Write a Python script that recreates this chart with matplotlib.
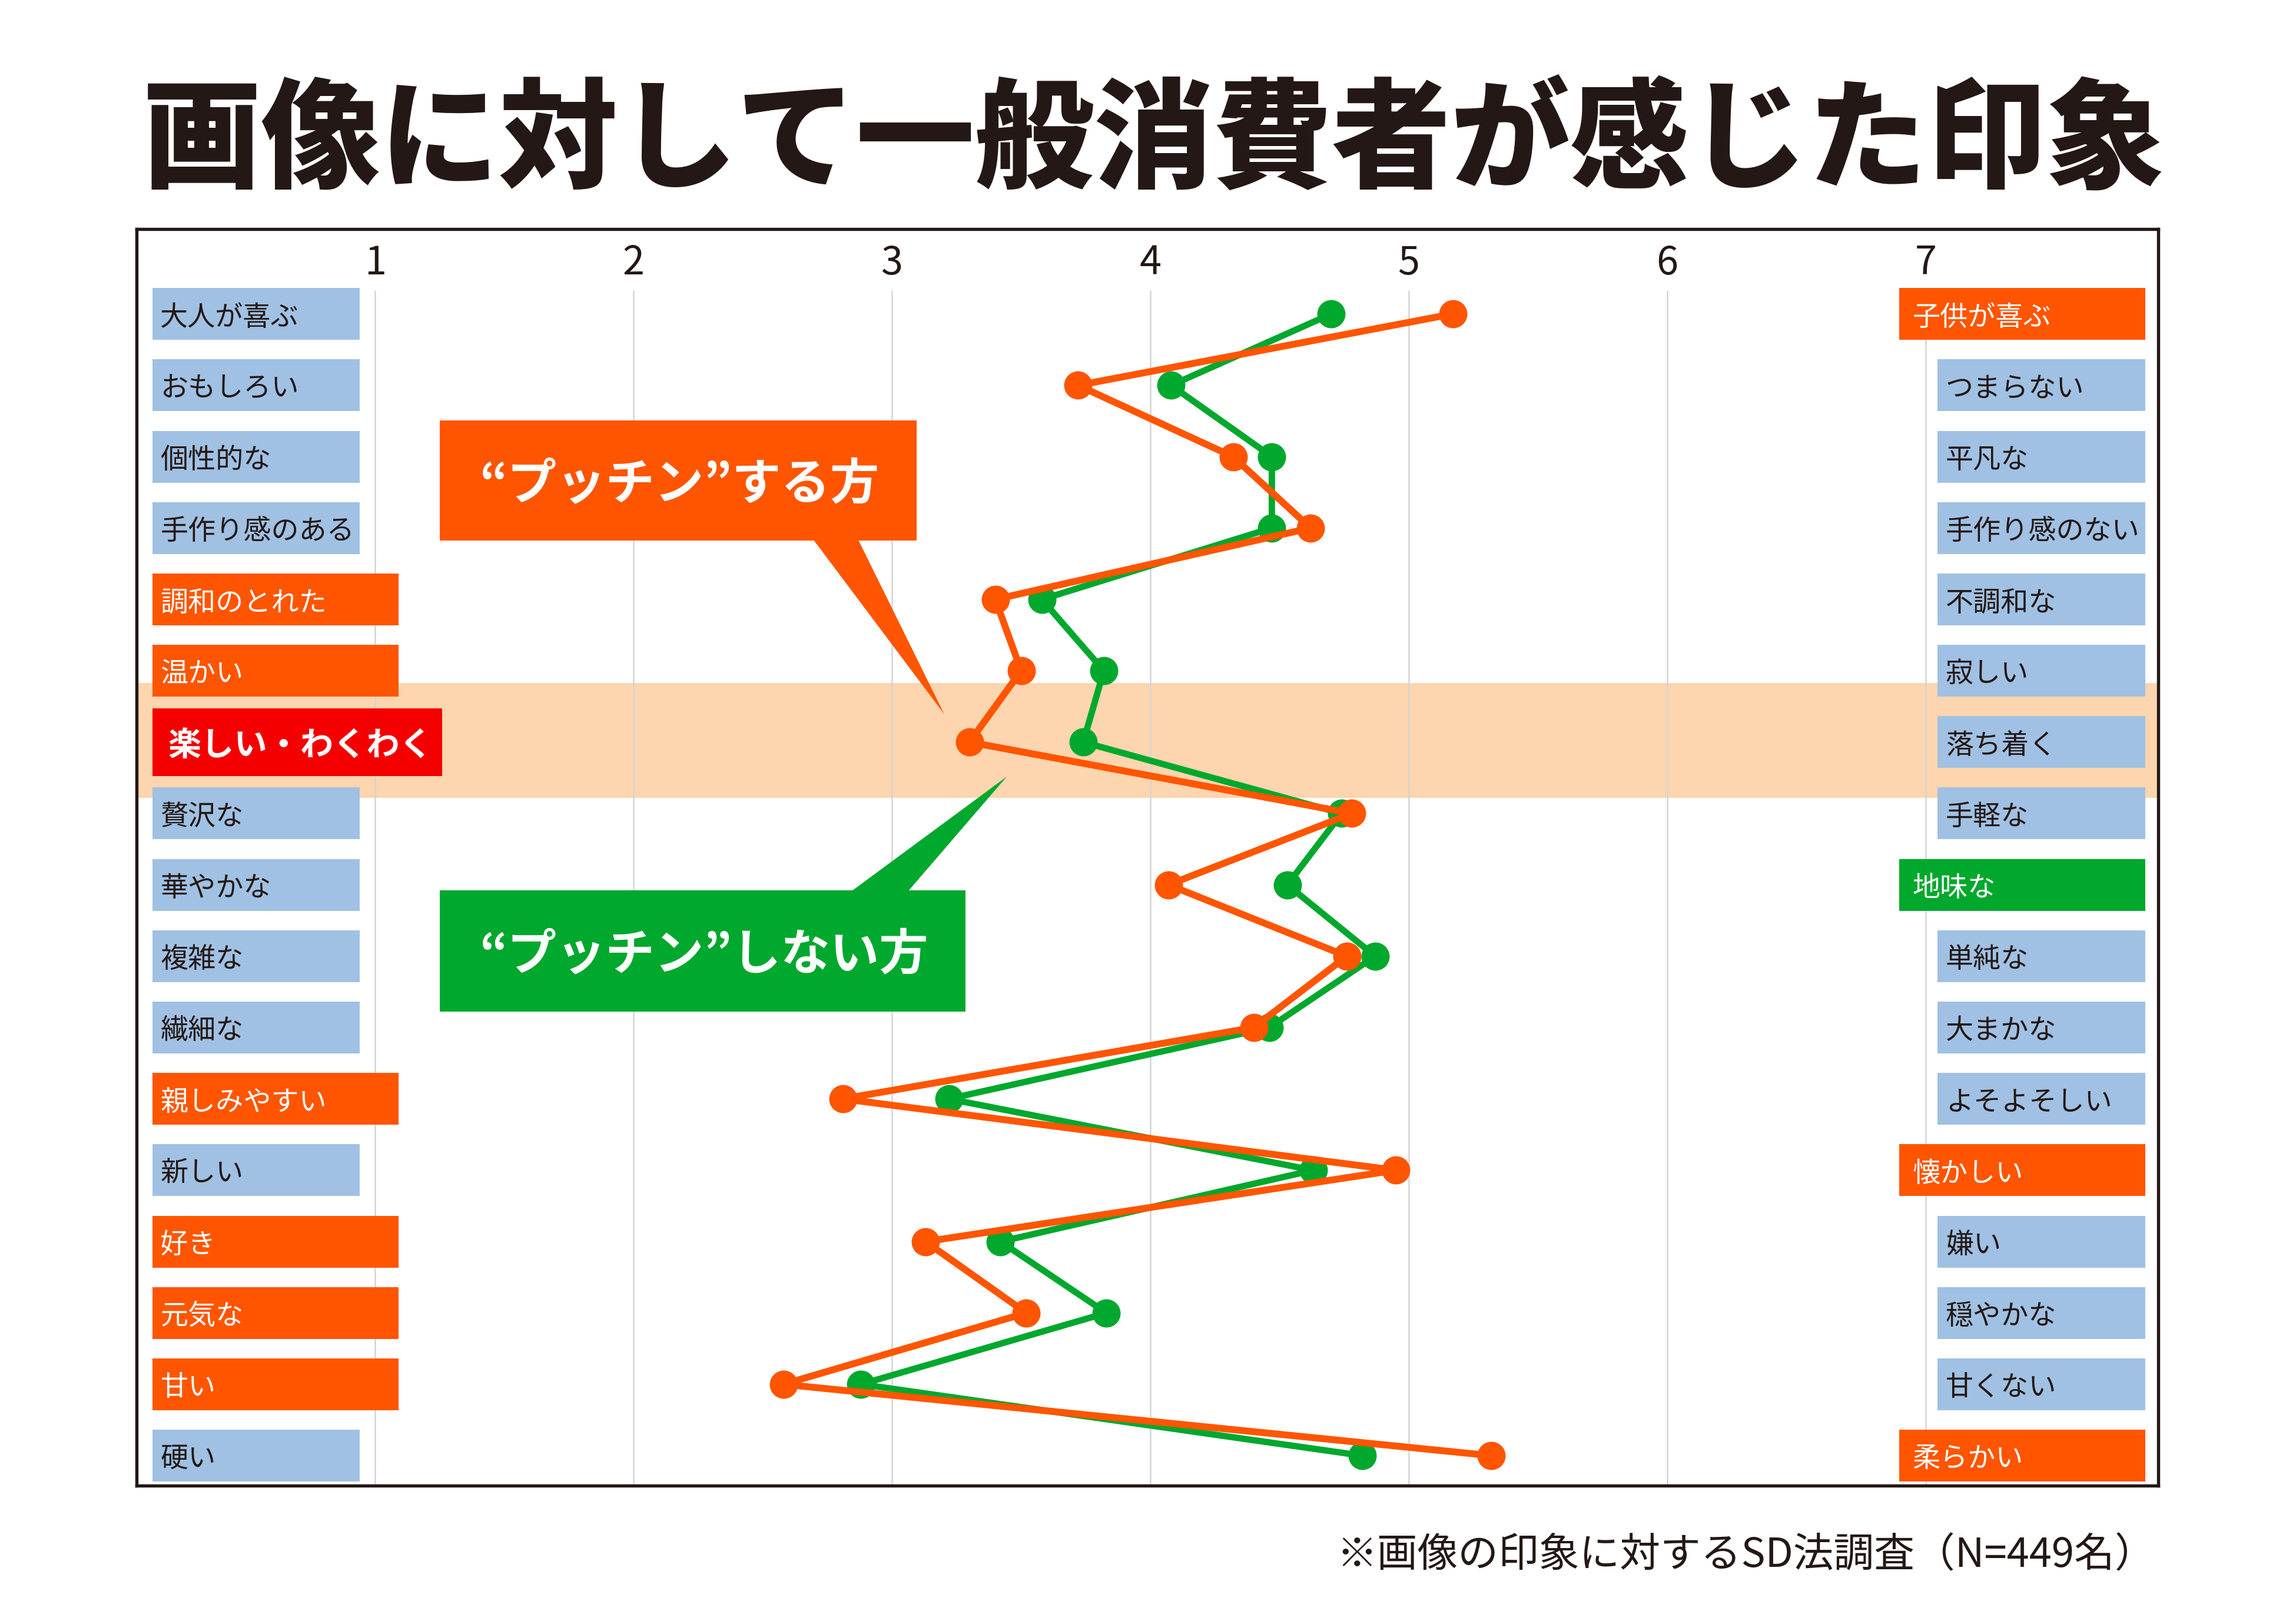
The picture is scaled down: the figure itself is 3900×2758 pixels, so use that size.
import matplotlib
matplotlib.use('Agg')
import matplotlib.pyplot as plt
from matplotlib.patches import Rectangle, Polygon
import numpy as np

plt.rcParams['font.family'] = ['Noto Sans CJK JP', 'DejaVu Sans']

# データ（SD法の評価、1〜7）
left_labels = ['大人が喜ぶ', 'おもしろい', '個性的な', '手作り感のある', '調和のとれた', '温かい',
               '楽しい・わくわく', '贅沢な', '華やかな', '複雑な', '繊細な', '親しみやすい',
               '新しい', '好き', '元気な', '甘い', '硬い']
right_labels = ['子供が喜ぶ', 'つまらない', '平凡な', '手作り感のない', '不調和な', '寂しい',
                '落ち着く', '手軽な', '地味な', '単純な', '大まかな', 'よそよそしい',
                '懐かしい', '嫌い', '穏やかな', '甘くない', '柔らかい']
left_kind = ['b', 'b', 'b', 'b', 'o', 'o', 'r', 'b', 'b', 'b', 'b', 'o', 'b', 'o', 'o', 'o', 'b']
right_kind = ['o', 'b', 'b', 'b', 'b', 'b', 'b', 'b', 'g', 'b', 'b', 'b', 'o', 'b', 'b', 'b', 'o']
suru = [5.17, 3.72, 4.32, 4.62, 3.40, 3.50, 3.30, 4.78, 4.07, 4.76, 4.40, 2.81, 4.95, 3.13, 3.52, 2.58, 5.32]
shinai = [4.70, 4.08, 4.47, 4.47, 3.58, 3.82, 3.74, 4.74, 4.53, 4.87, 4.46, 3.22, 4.63, 3.42, 3.83, 2.88, 4.82]
scale_ticks = [1, 2, 3, 4, 5, 6, 7]
highlight_row = 6

ORANGE = '#FF5500'
GREEN = '#00A82D'
BLUE = '#A0C1E3'
RED = '#F50000'
PEACH = '#FDD5AE'
INK = '#231815'
box_color = {'b': BLUE, 'o': ORANGE, 'r': RED, 'g': GREEN}

W, H = 3900, 2758
fig = plt.figure(figsize=(W / 300, H / 300), dpi=300)


def fx(px):
    return px / W


def fy(py):
    return 1 - py / H


# 枠 = 軸
ax = fig.add_axes([fx(232), fy(2523), (3666 - 232) / W, (2523 - 389) / H])
ax.set_xlim(0.077, 7.90)
ax.set_ylim(16.42, -1.19)
ax.set_xticks([])
ax.set_yticks([])
for s in ax.spines.values():
    s.set_linewidth(1.3)
    s.set_color(INK)

rows = np.arange(len(left_labels))
dy = 0.05  # 文字の縦位置の微調整

# 目盛り線と数字
ax.vlines(scale_ticks, -0.33, 16.42, color='#D4D4D4', lw=0.6, zorder=1)
for v in scale_ticks:
    ax.text(v, -0.71, str(v), ha='center', va='center', fontsize=16, color=INK, zorder=2)

# 強調帯
ax.axhspan(highlight_row - 0.83, highlight_row + 0.78, color=PEACH, lw=0, zorder=0.5)

# 左のラベル
for i, (lab, k) in enumerate(zip(left_labels, left_kind)):
    right = {'b': 0.941, 'o': 1.091, 'r': 1.26}[k]
    h = 0.95 if k == 'r' else 0.726
    ax.add_patch(Rectangle((0.139, i - h / 2), right - 0.139, h, color=box_color[k], lw=0, zorder=3))
    if k == 'r':
        ax.text(0.198, i + dy, lab, ha='left', va='center', fontsize=13.5, fontweight='bold',
                color='white', zorder=4)
    else:
        ax.text(0.169, i + dy, lab, ha='left', va='center', fontsize=11.3,
                color=INK if k == 'b' else 'white', zorder=4)

# 右のラベル
for i, (lab, k) in enumerate(zip(right_labels, right_kind)):
    left = 7.045 if k == 'b' else 6.897
    ax.add_patch(Rectangle((left, i - 0.363), 7.850 - left, 0.726, color=box_color[k], lw=0, zorder=3))
    pad = 0.032 if k == 'b' else 0.052
    ax.text(left + pad, i + dy, lab, ha='left', va='center', fontsize=11.3,
            color=INK if k == 'b' else 'white', zorder=4)

# 折れ線
ax.plot(shinai, rows, color=GREEN, lw=2.6, marker='o', ms=10.5, zorder=5)
ax.plot(suru, rows, color=ORANGE, lw=2.8, marker='o', ms=10.5, zorder=6)

# 吹き出し
def callout(rect, tri, color, text):
    x0, y0, x1, y1 = rect
    fig.add_artist(Rectangle((fx(x0), fy(y1)), fx(x1 - x0), (y1 - y0) / H,
                             transform=fig.transFigure, color=color, lw=0, zorder=7))
    fig.add_artist(Polygon([(fx(px), fy(py)) for px, py in tri], closed=True,
                           transform=fig.transFigure, color=color, lw=0, zorder=7))
    fig.text(fx(815), fy((y0 + y1) / 2 + 8), text, ha='left', va='center', fontsize=20,
             fontweight='bold', color='white', zorder=8)


callout((747, 714, 1557, 918), [(1382, 917), (1458, 917), (1604, 1213)], ORANGE, '“プッチン”する方')
callout((747, 1512, 1640, 1718), [(1447, 1513), (1543, 1513), (1710, 1319)], GREEN, '“プッチン”しない方')

# タイトルと注記
fig.text(fx(1960), fy(244), '画像に対して一般消費者が感じた印象', ha='center', va='center',
         fontsize=48.5, fontweight='black', color=INK)
fig.text(fx(3661), fy(2642), '※画像の印象に対するSD法調査（N=449名）', ha='right', va='center',
         fontsize=16.5, color=INK)

fig.savefig('out.png', dpi=300)
